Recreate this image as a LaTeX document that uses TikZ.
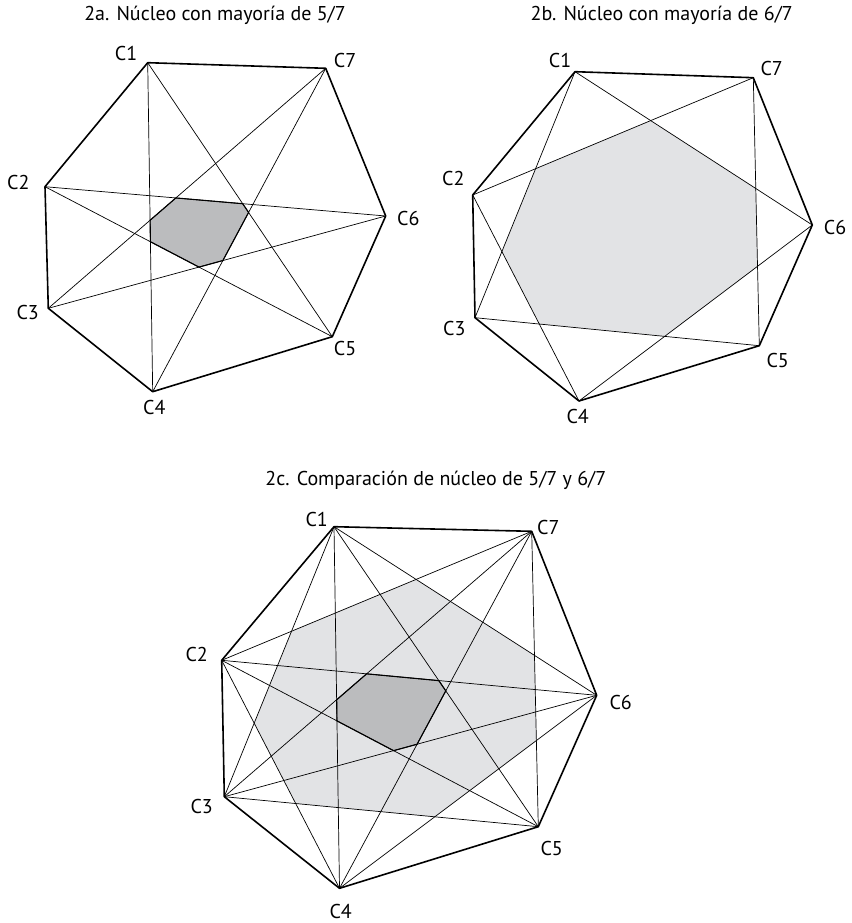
\documentclass[tikz,border=0pt]{standalone}
\usepackage{fontspec}
\setmainfont{PT Sans}
\definecolor{corelight}{RGB}{226,227,229}
\definecolor{coredark}{RGB}{187,188,190}
\begin{document}
\begin{tikzpicture}[x=1pt,y=-1pt,
  edge/.style={line width=1.6pt, line join=round},
  diag/.style={line width=0.7pt},
  darkcore/.style={fill=coredark, draw=black, line width=1.1pt, line join=round},
  lightcore/.style={fill=corelight},
  lab/.style={font=\fontsize{20}{24}\selectfont, inner sep=0pt},
  ttl/.style={font=\fontsize{20}{24}\selectfont, inner sep=0pt}]
\useasboundingbox (0,0) rectangle (851,923);

% ---------- 2a ----------
\coordinate (a1) at (147.7,62.7);
\coordinate (a2) at (45,186.7);
\coordinate (a3) at (48.3,308.3);
\coordinate (a4) at (152.7,391.7);
\coordinate (a5) at (332.3,336.7);
\coordinate (a6) at (385.7,216);
\coordinate (a7) at (325.7,68.3);
\node[ttl] (ta) at (215,15) {2a. Núcleo con mayoría de 5/7};
\node[lab] (la1) at (126,53.3) {C1};
\node[lab] (la2) at (18.3,182.7) {C2};
\node[lab] (la3) at (27.7,312.3) {C3};
\node[lab] (la4) at (154.3,407.3) {C4};
\node[lab] (la5) at (345,348.3) {C5};
\node[lab] (la6) at (408.3,218.3) {C6};
\node[lab] (la7) at (345,60.7) {C7};
\filldraw[darkcore] (intersection of a3--a7 and a2--a6) -- (intersection of a2--a6 and a1--a5)
  -- (intersection of a1--a5 and a4--a7) -- (intersection of a4--a7 and a3--a6)
  -- (intersection of a3--a6 and a2--a5) -- (intersection of a2--a5 and a1--a4)
  -- (intersection of a1--a4 and a3--a7) -- cycle;
\draw[diag] (a1) -- (a4); \draw[diag] (a4) -- (a7); \draw[diag] (a7) -- (a3);
\draw[diag] (a3) -- (a6); \draw[diag] (a6) -- (a2); \draw[diag] (a2) -- (a5);
\draw[diag] (a5) -- (a1);
\draw[edge] (a1) -- (a2) -- (a3) -- (a4) -- (a5) -- (a6) -- (a7) -- cycle;

% ---------- 2b ----------
\coordinate (b1) at (575,71.7);
\coordinate (b2) at (472.7,195);
\coordinate (b3) at (475,317.7);
\coordinate (b4) at (579,401);
\coordinate (b5) at (759.3,345.7);
\coordinate (b6) at (812.3,225);
\coordinate (b7) at (753.3,77.7);
\node[ttl] (tb) at (661.7,15) {2b. Núcleo con mayoría de 6/7};
\node[lab] (lb1) at (560,61) {C1};
\node[lab] (lb2) at (453.3,178.3) {C2};
\node[lab] (lb3) at (454.3,328.3) {C3};
\node[lab] (lb4) at (577.7,416.7) {C4};
\node[lab] (lb5) at (777.7,360) {C5};
\node[lab] (lb6) at (835,227.3) {C6};
\node[lab] (lb7) at (771.7,68.3) {C7};
\fill[lightcore] (intersection of b2--b7 and b1--b6) -- (intersection of b1--b6 and b7--b5)
  -- (intersection of b7--b5 and b4--b6) -- (intersection of b4--b6 and b3--b5)
  -- (intersection of b3--b5 and b2--b4) -- (intersection of b2--b4 and b1--b3)
  -- (intersection of b1--b3 and b2--b7) -- cycle;
\draw[diag] (b1) -- (b3); \draw[diag] (b3) -- (b5); \draw[diag] (b5) -- (b7);
\draw[diag] (b7) -- (b2); \draw[diag] (b2) -- (b4); \draw[diag] (b4) -- (b6);
\draw[diag] (b6) -- (b1);
\draw[edge] (b1) -- (b2) -- (b3) -- (b4) -- (b5) -- (b6) -- (b7) -- cycle;

% ---------- 2c ----------
\coordinate (c1) at (334,526.7);
\coordinate (c2) at (221.7,660.3);
\coordinate (c3) at (224.3,796.7);
\coordinate (c4) at (339.5,888.3);
\coordinate (c5) at (538.3,826.7);
\coordinate (c6) at (596.7,695.3);
\coordinate (c7) at (531.7,531.3);
\node[ttl] (tc) at (435.8,480.5) {2c. Comparación de núcleo de 5/7 y 6/7};
\node[lab] (lc1) at (316.7,519.3) {C1};
\node[lab] (lc2) at (196.7,654.3) {C2};
\node[lab] (lc3) at (201.7,806) {C3};
\node[lab] (lc4) at (340.7,911.7) {C4};
\node[lab] (lc5) at (551.7,848.3) {C5};
\node[lab] (lc6) at (620.7,702.7) {C6};
\node[lab] (lc7) at (548.3,527.3) {C7};
\fill[lightcore] (intersection of c2--c7 and c1--c6) -- (intersection of c1--c6 and c7--c5)
  -- (intersection of c7--c5 and c4--c6) -- (intersection of c4--c6 and c3--c5)
  -- (intersection of c3--c5 and c2--c4) -- (intersection of c2--c4 and c1--c3)
  -- (intersection of c1--c3 and c2--c7) -- cycle;
\filldraw[darkcore] (intersection of c3--c7 and c2--c6) -- (intersection of c2--c6 and c1--c5)
  -- (intersection of c1--c5 and c4--c7) -- (intersection of c4--c7 and c3--c6)
  -- (intersection of c3--c6 and c2--c5) -- (intersection of c2--c5 and c1--c4)
  -- (intersection of c1--c4 and c3--c7) -- cycle;
\foreach \i/\j in {1/3,3/5,5/7,7/2,2/4,4/6,6/1,1/4,4/7,7/3,3/6,6/2,2/5,5/1}
  \draw[diag] (c\i) -- (c\j);
\draw[edge] (c1) -- (c2) -- (c3) -- (c4) -- (c5) -- (c6) -- (c7) -- cycle;
\end{tikzpicture}
\end{document}
